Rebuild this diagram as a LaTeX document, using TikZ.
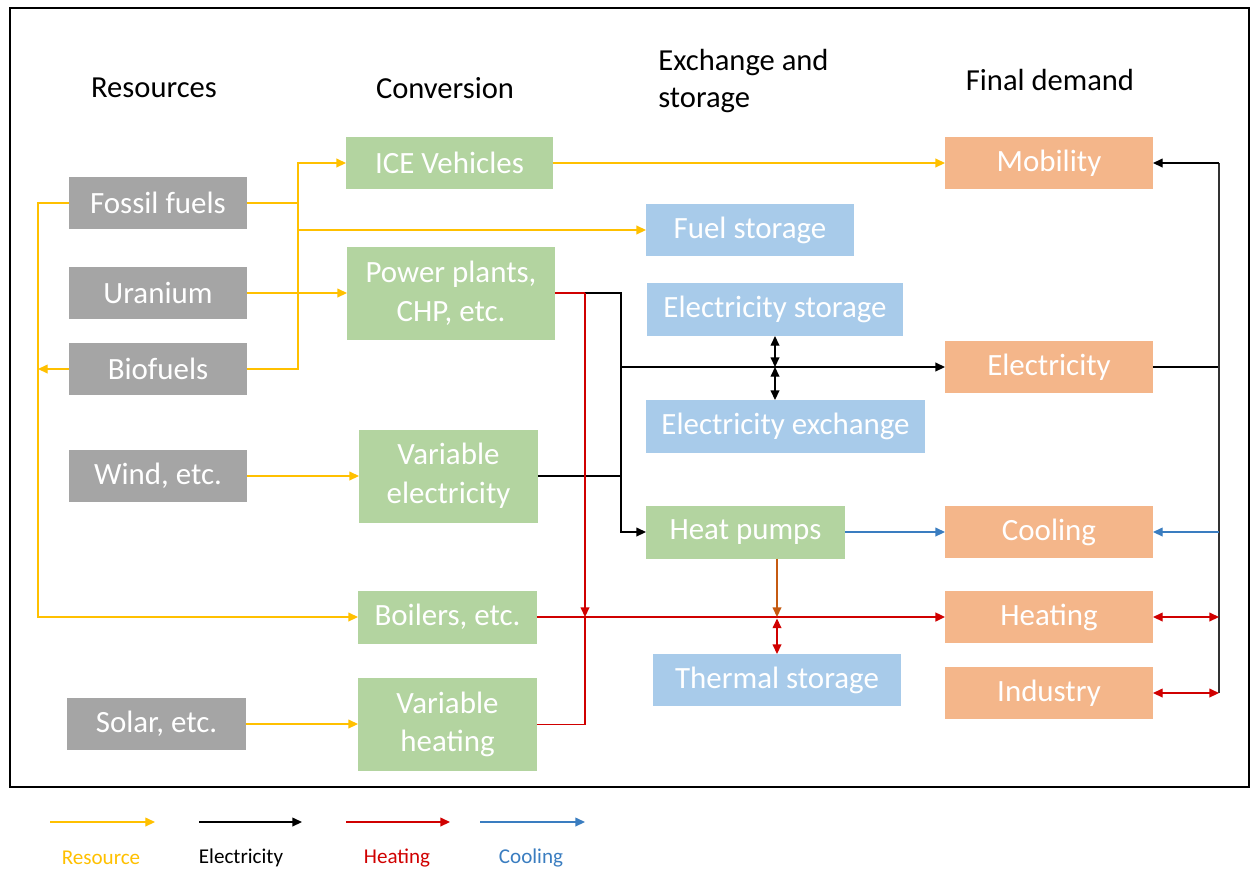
\documentclass[tikz,border=0pt]{standalone}
\usepackage{fontspec}
\setmainfont{Carlito}
\usetikzlibrary{arrows.meta,calc}
\definecolor{resc}{HTML}{FFC000}
\definecolor{heatc}{HTML}{D00000}
\definecolor{coolc}{HTML}{3A7DC0}
\definecolor{hpc}{HTML}{C55A11}
\definecolor{grayfill}{HTML}{A5A5A5}
\definecolor{greenfill}{HTML}{B3D4A0}
\definecolor{bluefill}{HTML}{A8CBEA}
\definecolor{orangefill}{HTML}{F4B68A}
\tikzset{
  box/.style={inner sep=0pt, outer sep=0pt, text=white, align=center,
    font=\fontsize{17.6}{22}\selectfont},
  resbox/.style={box, fill=grayfill},
  convbox/.style={box, fill=greenfill},
  storebox/.style={box, fill=bluefill},
  demandbox/.style={box, fill=orangefill},
  header/.style={font=\fontsize{17.4}{21.5}\selectfont, inner sep=0pt},
  legendtext/.style={font=\fontsize{12}{14}\selectfont, inner sep=0pt},
  res/.style={draw=resc, line width=0.75pt},
  elec/.style={draw=black, line width=0.75pt},
  heat/.style={draw=heatc, line width=0.75pt},
  heatmain/.style={draw=heatc, line width=1.1pt},
  cool/.style={draw=coolc, line width=0.75pt},
  hpline/.style={draw=hpc, line width=0.75pt},
  >={Triangle[length=5.5pt,width=5pt]}
}
\begin{document}
\begin{tikzpicture}[x=0.02cm, y=-0.02cm]
\useasboundingbox (0,0) rectangle (1250,870);
% outer frame
\draw[line width=0.8pt] (10,8) rectangle (1249,787);

% column headings
\node[header] (hres) at (154,88) {Resources};
\node[header] (hconv) at (445,88) {Conversion};
\node[header, align=left, anchor=west] (hex) at (658,81) {Exchange and\\storage};
\node[header] (hdem) at (1050,80) {Final demand};

% resources
\node[resbox, minimum width=3.56cm, minimum height=1.04cm] (fossil) at (158,203) {Fossil fuels};
\node[resbox, minimum width=3.56cm, minimum height=1.04cm] (uranium) at (158,293) {Uranium};
\node[resbox, minimum width=3.56cm, minimum height=1.04cm] (bio) at (158,369) {Biofuels};
\node[resbox, minimum width=3.56cm, minimum height=1.04cm] (wind) at (158,476) {Wind, etc.};
\node[resbox, minimum width=3.58cm, minimum height=1.04cm] (solar) at (156.5,724) {Solar, etc.};

% conversion
\node[convbox, minimum width=4.14cm, minimum height=1.04cm] (ice) at (449.5,163) {ICE Vehicles};
\node[convbox, minimum width=4.16cm, minimum height=1.86cm] (pp) at (451,293) {Power plants,\\CHP, etc.};
\node[convbox, minimum width=3.58cm, minimum height=1.86cm] (varel) at (448.5,476) {Variable\\electricity};
\node[convbox, minimum width=3.58cm, minimum height=1.06cm] (boil) at (447.5,617) {Boilers, etc.};
\node[convbox, minimum width=3.58cm, minimum height=1.86cm] (varheat) at (447.5,724.5) {Variable\\heating};
\node[convbox, minimum width=3.98cm, minimum height=1.06cm] (hp) at (745.5,532) {Heat pumps};

% exchange and storage
\node[storebox, minimum width=4.16cm, minimum height=1.04cm] (fstore) at (750,230) {Fuel storage};
\node[storebox, minimum width=5.12cm, minimum height=1.06cm] (estore) at (775,309.5) {Electricity storage};
\node[storebox, minimum width=5.58cm, minimum height=1.06cm] (exch) at (785.5,426.5) {Electricity exchange};
\node[storebox, minimum width=4.96cm, minimum height=1.04cm] (tstore) at (777,680) {Thermal storage};

% final demand
\node[demandbox, minimum width=4.16cm, minimum height=1.04cm] (mob) at (1049,163) {Mobility};
\node[demandbox, minimum width=4.16cm, minimum height=1.04cm] (elec) at (1049,367) {Electricity};
\node[demandbox, minimum width=4.16cm, minimum height=1.04cm] (cool) at (1049,532) {Cooling};
\node[demandbox, minimum width=4.16cm, minimum height=1.04cm] (heatd) at (1049,617) {Heating};
\node[demandbox, minimum width=4.16cm, minimum height=1.04cm] (ind) at (1049,693) {Industry};

% junction points
\coordinate (yb) at (298,369);
\coordinate (yl) at (38,203);
\coordinate (rj) at (585,293);
\coordinate (ej) at (621,293);
\coordinate (rb) at (1219,367);

% resource flows
\draw[res] (bio.east) -- (yb) -- (yb |- ice.west);
\draw[res,->] (fossil.east) -- (fossil.east -| yb) |- (ice.west);
\draw[res,->] (fstore.west -| yb) -- (fstore.west);
\draw[res,->] (uranium.east) -- (pp.west |- uranium.east);
\draw[res,->] (fossil.west) -- (yl) |- (boil.west);
\draw[res,->] (bio.west) -- (bio.west -| yl);
\draw[res,->] (wind.east) -- (varel.west |- wind.east);
\draw[res,->] (solar.east) -- (varheat.west |- solar.east);
\draw[res,->] (ice.east) -- (mob.west);

% electricity flows
\draw[heat] (pp.east |- rj) -- (rj);
\draw[elec] (rj) -- (ej) -- (ej |- varel.east);
\draw[elec,->] (ej |- elec.west) -- (elec.west);
\draw[elec,->] (varel.east) -- (varel.east -| ej) |- (hp.west);
\draw[elec,<->] (estore.south) -- (estore.south |- elec.west);
\draw[elec,<->] (estore.south |- elec.west) -- (estore.south |- exch.north);

% heating flows
\draw[heat,->] (rj) -- (rj |- boil.east);
\draw[heat] (varheat.east) -| (rj |- boil.east);
\draw[heatmain,->] (boil.east) -- (heatd.west);
\draw[hpline,->] (tstore.north |- hp.south) -- (tstore.north |- boil.east);
\draw[heat,<->] ($(tstore.north |- boil.east)+(0,1.5)$) -- (tstore.north);

% cooling
\draw[cool,->] (hp.east) -- (cool.west);

% distribution bus on the right
\draw[elec] (elec.east) -- (rb);
\draw[draw=black!80, line width=0.75pt] (rb |- mob.east) -- (rb |- ind.east);
\draw[elec,->] (rb |- mob.east) -- (mob.east);
\draw[cool,->] (rb |- cool.east) -- (cool.east);
\draw[heat,<->] (heatd.east) -- (rb |- heatd.east);
\draw[heat,<->] (ind.east) -- (rb |- ind.east);

% legend
\coordinate (l1a) at (50,822);  \coordinate (l1b) at (155,822);
\coordinate (l2a) at (199,822); \coordinate (l2b) at (302,822);
\coordinate (l3a) at (346,822); \coordinate (l3b) at (450,822);
\coordinate (l4a) at (480,822); \coordinate (l4b) at (585,822);
\draw[res,->] (l1a) -- (l1b);
\draw[elec,->] (l2a) -- (l2b);
\draw[heat,->] (l3a) -- (l3b);
\draw[cool,->] (l4a) -- (l4b);
\node[legendtext, text=resc] (t1) at (101,858) {Resource};
\node[legendtext] (t2) at (241,858) {Electricity};
\node[legendtext, text=heatc] (t3) at (397,858) {Heating};
\node[legendtext, text=coolc] (t4) at (531,858) {Cooling};
\end{tikzpicture}
\end{document}
